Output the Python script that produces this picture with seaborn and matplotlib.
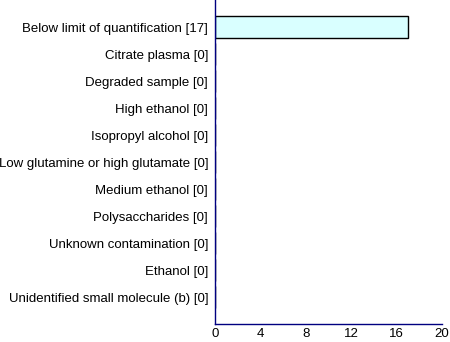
import matplotlib
matplotlib.use("Agg")
import matplotlib.pyplot as plt
import seaborn as sns
import pandas as pd

categories = ["Below limit of quantification [17]", "Citrate plasma [0]", "Degraded sample [0]",
              "High ethanol [0]", "Isopropyl alcohol [0]", "Low glutamine or high glutamate [0]",
              "Medium ethanol [0]", "Polysaccharides [0]", "Unknown contamination [0]",
              "Ethanol [0]", "Unidentified small molecule (b) [0]"]
counts = [17, 0, 0, 0, 0, 0, 0, 0, 0, 0, 0]
xticks = [0, 4, 8, 12, 16, 20]

sns.set_style("white")
plt.rcParams['font.family'] = ['Liberation Sans', 'DejaVu Sans']

df = pd.DataFrame({"cat": categories, "n": counts})
fig = plt.figure(figsize=(4.5, 3.42), dpi=100)
ax = fig.add_axes([0.478, 0.0526, 0.504, 0.9474])
sns.barplot(data=df, x="n", y="cat", orient="h", color="#D9FFFF", edgecolor="black",
            linewidth=1.0, width=0.85, saturation=1, ax=ax)
ax.set_xlim(0, 20)
ax.set_ylim(11, -1)
ax.set_xticks(xticks)
ax.set_xticklabels([str(t) for t in xticks])
ax.set_xlabel("")
ax.set_ylabel("")
for s in ["top", "right"]:
    ax.spines[s].set_visible(False)
for s in ["left", "bottom"]:
    ax.spines[s].set_color("#000080")
    ax.spines[s].set_linewidth(1.0)
ax.tick_params(axis="both", direction="out", length=4, width=1, color="#000080",
               labelsize=9.5, labelcolor="black", pad=1)
ax.tick_params(axis="x", length=3, pad=0)
fig.savefig("out.png", dpi=100)
